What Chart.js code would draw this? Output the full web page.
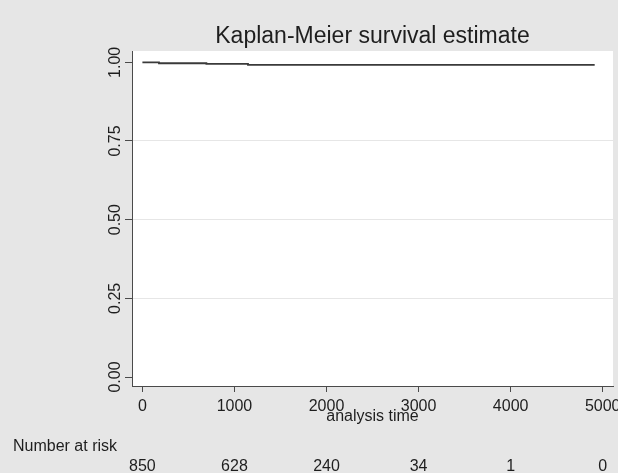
<!DOCTYPE html>
<html>
<head>
<meta charset="utf-8">
<script src="https://cdn.jsdelivr.net/npm/chart.js@4/dist/chart.umd.min.js"></script>
<style>
  html, body { margin: 0; padding: 0; background: #e6e6e6; }
  canvas { display: block; }
</style>
</head>
<body>
<canvas id="c" width="618" height="473"></canvas>
<script>
// ---- data ----
const times = [0, 180, 695, 1147, 4913];
const survival = [1.0, 0.997, 0.995, 0.992, 0.992];
const xTicks = [0, 1000, 2000, 3000, 4000, 5000];
const yTicks = [0, 0.25, 0.5, 0.75, 1.0];
const yTickLabels = ["0.00", "0.25", "0.50", "0.75", "1.00"];
const riskTimes = [0, 1000, 2000, 3000, 4000, 5000];
const numberAtRisk = [850, 628, 240, 34, 1, 0];
const titleText = "Kaplan-Meier survival estimate";
const xTitle = "analysis time";
const riskLabel = "Number at risk";

const FONT = "'Liberation Sans', Arial, sans-serif";
const BG = '#e6e6e6';
const TXT = '#1e1e1e';
const AXIS = '#4a4a4a';

const decor = {
  id: 'decor',
  beforeDraw(chart) {
    const ctx = chart.ctx, a = chart.chartArea;
    ctx.save();
    ctx.fillStyle = BG;
    ctx.fillRect(0, 0, chart.width, chart.height);
    ctx.fillStyle = '#ffffff';
    ctx.fillRect(a.left, a.top, a.right - a.left, a.bottom - a.top);
    ctx.restore();
  },
  afterDraw(chart) {
    const ctx = chart.ctx, a = chart.chartArea;
    const xs = chart.scales.x, ys = chart.scales.y;
    const cx = (a.left + a.right) / 2;
    ctx.save();
    ctx.fillStyle = TXT;
    // title
    ctx.font = '23px ' + FONT;
    ctx.textAlign = 'center';
    ctx.textBaseline = 'alphabetic';
    ctx.fillText(titleText, cx, 43);
    // y tick labels, rotated
    ctx.font = '16px ' + FONT;
    yTicks.forEach((v, i) => {
      const y = ys.getPixelForValue(v);
      ctx.save();
      ctx.translate(120, y);
      ctx.rotate(-Math.PI / 2);
      ctx.textAlign = 'center';
      ctx.fillText(yTickLabels[i], 0, 0);
      ctx.restore();
    });
    // x title
    ctx.textAlign = 'center';
    ctx.fillText(xTitle, cx, 421);
    // number at risk
    ctx.textAlign = 'left';
    ctx.fillText(riskLabel, 13, 450.5);
    ctx.textAlign = 'center';
    numberAtRisk.forEach((n, i) => {
      ctx.fillText(String(n), xs.getPixelForValue(riskTimes[i]), 470.5);
    });
    ctx.restore();
  }
};

new Chart(document.getElementById('c'), {
  type: 'line',
  data: {
    datasets: [{
      data: times.map((t, i) => ({ x: t, y: survival[i] })),
      stepped: 'before',
      borderColor: '#3a3a3a',
      borderWidth: 1.8,
      pointRadius: 0,
      fill: false
    }]
  },
  options: {
    responsive: false,
    animation: false,
    devicePixelRatio: 1,
    layout: { padding: { top: 51, right: 5, left: 0, bottom: 0 } },
    plugins: { legend: { display: false }, tooltip: { enabled: false }, title: { display: false } },
    scales: {
      x: {
        type: 'linear',
        min: -113,
        max: 5112,
        afterBuildTicks: s => { s.ticks = xTicks.map(v => ({ value: v })); },
        afterFit: s => { s.height = 87; s.paddingLeft = 0; s.paddingRight = 0; },
        grid: { drawOnChartArea: false, drawTicks: true, tickLength: 6, tickColor: AXIS, tickWidth: 1 },
        border: { display: true, color: AXIS, width: 1 },
        ticks: {
          color: TXT, font: { family: FONT, size: 16 }, padding: 5,
          maxRotation: 0, minRotation: 0, autoSkip: false,
          callback: v => String(v)
        }
      },
      y: {
        type: 'linear',
        min: -0.0286,
        max: 1.036,
        afterBuildTicks: s => { s.ticks = yTicks.map(v => ({ value: v })); },
        afterFit: s => { s.width = 132; s.paddingTop = 0; s.paddingBottom = 0; },
        grid: {
          drawOnChartArea: true,
          drawTicks: true,
          tickLength: 7,
          tickColor: AXIS,
          color: c => (c.tick && c.tick.value > 0.01 && c.tick.value < 0.99) ? '#e6e6e6' : 'rgba(0,0,0,0)'
        },
        border: { display: true, color: AXIS, width: 1 },
        ticks: { display: false }
      }
    }
  },
  plugins: [decor]
});
</script>
</body>
</html>
